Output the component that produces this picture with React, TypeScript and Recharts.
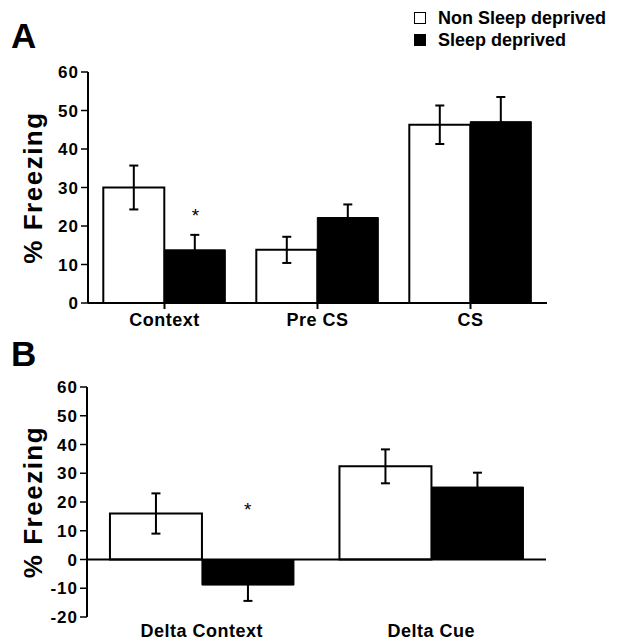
import React from 'react';
import { BarChart, Bar, XAxis, YAxis, ErrorBar, Legend, ReferenceLine, ReferenceDot } from 'recharts';

const FONT = '"Liberation Sans", Arial, Helvetica, sans-serif';

// Panel A: % freezing per test phase
const categoriesA = ['Context', 'Pre CS', 'CS'];
const nonSleepA = [30, 13.8, 46.3];
const nonSleepErrA = [5.7, 3.4, 5];
const sleepA = [13.8, 22.2, 47.1];
const sleepErrA = [3.9, 3.4, 6.4];
const ticksA = [0, 10, 20, 30, 40, 50, 60];

// Panel B: delta freezing
const categoriesB = ['Delta Context', 'Delta Cue'];
const nonSleepB = [16, 32.4];
const nonSleepErrB = [7, 5.9];
const sleepB = [-8.9, 25.2];
const sleepErrB = [5.5, 5];
const ticksB = [-20, -10, 0, 10, 20, 30, 40, 50, 60];

// significance stars (category, height)
const starA = { category: 'Context', value: 23.4 };
const starB = { category: 'Delta Context', value: 18.3 };

const seriesNames = ['Non Sleep deprived', 'Sleep deprived'];

const tickStyle = { fill: '#000', fontSize: 17, fontWeight: 'bold', fontFamily: FONT, letterSpacing: 1 };
const catStyle = { fill: '#000', fontSize: 18, fontWeight: 'bold', fontFamily: FONT, letterSpacing: 0.5 };

const YLabel = ({ viewBox }: any) => {
  const cx = viewBox.x + 33;
  const cy = viewBox.y + viewBox.height / 2;
  return (
    <text
      x={cx}
      y={cy}
      transform={`rotate(-90, ${cx}, ${cy})`}
      textAnchor="middle"
      dominantBaseline="central"
      style={{ fontSize: 26, fontWeight: 'bold', fontFamily: FONT, letterSpacing: 1.5 }}
      fill="#000"
    >
      % Freezing
    </text>
  );
};

const starShape = (dx: number) => (p: any) => (
  <text x={p.cx + dx} y={p.cy + 9} textAnchor="middle" fontSize={19} fontFamily={FONT} fill="#000">
    *
  </text>
);

const LegendBox = ({ payload }: any) => (
  <div style={{ fontFamily: FONT, fontWeight: 'bold', fontSize: 18, color: '#000' }}>
    {(payload || []).map((entry: any) => (
      <div key={entry.value} style={{ display: 'flex', alignItems: 'center', height: 22 }}>
        <span
          style={{
            display: 'inline-block',
            width: 10,
            height: 10,
            border: '1.5px solid #000',
            background: entry.color,
            marginRight: 12,
          }}
        />
        <span>{entry.value}</span>
      </div>
    ))}
  </div>
);

export default function App() {
  const dataA = categoriesA.map((c, i) => ({
    category: c,
    nonSleep: nonSleepA[i],
    nonSleepErr: nonSleepErrA[i],
    sleep: sleepA[i],
    sleepErr: sleepErrA[i],
  }));
  const dataB = categoriesB.map((c, i) => ({
    category: c,
    nonSleep: nonSleepB[i],
    nonSleepErr: nonSleepErrB[i],
    sleep: sleepB[i],
    sleepErr: sleepErrB[i],
  }));

  return (
    <div style={{ position: 'absolute', left: 0, top: 0, width: 634, height: 643, background: '#fff' }}>
      <svg width={634} height={643} style={{ position: 'absolute', left: 0, top: 0 }}>
        <text x={11} y={48} fontSize={35} fontWeight="bold" fontFamily={FONT} fill="#000">A</text>
        <text x={11} y={366} fontSize={35} fontWeight="bold" fontFamily={FONT} fill="#000">B</text>
      </svg>

      <div style={{ position: 'absolute', left: 0, top: 0 }}>
        <BarChart
          width={634}
          height={340}
          data={dataA}
          margin={{ top: 72, right: 87, bottom: 0, left: 0 }}
          barCategoryGap="10%"
          barGap={0}
        >
          <XAxis
            dataKey="category"
            height={37}
            axisLine={{ stroke: '#000', strokeWidth: 2 }}
            tickLine={{ stroke: '#000', strokeWidth: 2 }}
            tickSize={6}
            tickMargin={4}
            tick={catStyle}
          />
          <YAxis
            width={88}
            domain={[0, 60]}
            ticks={ticksA}
            axisLine={{ stroke: '#000', strokeWidth: 2 }}
            tickLine={{ stroke: '#000', strokeWidth: 1.5 }}
            tickSize={7}
            tick={tickStyle}
            label={<YLabel />}
          />
          <Legend
            layout="horizontal"
            verticalAlign="middle"
            align="center"
            content={<LegendBox />}
            wrapperStyle={{ left: 414, top: 7, width: 220, height: 46 }}
          />
          <Bar dataKey="nonSleep" name={seriesNames[0]} fill="#fff" stroke="#000" strokeWidth={2} isAnimationActive={false}>
            <ErrorBar dataKey="nonSleepErr" width={4.5} stroke="#000" strokeWidth={2} />
          </Bar>
          <Bar dataKey="sleep" name={seriesNames[1]} fill="#000" stroke="#000" strokeWidth={1} isAnimationActive={false}>
            <ErrorBar dataKey="sleepErr" width={4.5} stroke="#000" strokeWidth={2} />
          </Bar>
          <ReferenceDot x={starA.category} y={starA.value} r={0} shape={starShape(31)} />
        </BarChart>
      </div>

      <div style={{ position: 'absolute', left: 0, top: 340 }}>
        <BarChart
          width={634}
          height={303}
          data={dataB}
          margin={{ top: 47, right: 88, bottom: 0, left: 0 }}
          barCategoryGap="10%"
          barGap={0}
        >
          <XAxis
            dataKey="category"
            height={26}
            axisLine={false}
            tickLine={false}
            tickSize={6}
            tickMargin={1}
            tick={catStyle}
          />
          <YAxis
            width={87}
            domain={[-20, 60]}
            ticks={ticksB}
            axisLine={{ stroke: '#000', strokeWidth: 2 }}
            tickLine={{ stroke: '#000', strokeWidth: 1.5 }}
            tickSize={7}
            tick={tickStyle}
            label={<YLabel />}
          />
          <Bar dataKey="nonSleep" name={seriesNames[0]} fill="#fff" stroke="#000" strokeWidth={2} isAnimationActive={false}>
            <ErrorBar dataKey="nonSleepErr" width={4.5} stroke="#000" strokeWidth={2} />
          </Bar>
          <Bar dataKey="sleep" name={seriesNames[1]} fill="#000" stroke="#000" strokeWidth={1} isAnimationActive={false}>
            <ErrorBar dataKey="sleepErr" width={4.5} stroke="#000" strokeWidth={2} />
          </Bar>
          <ReferenceLine y={0} stroke="#000" strokeWidth={2} />
          <ReferenceDot x={starB.category} y={starB.value} r={0} shape={starShape(46)} />
        </BarChart>
      </div>
    </div>
  );
}
